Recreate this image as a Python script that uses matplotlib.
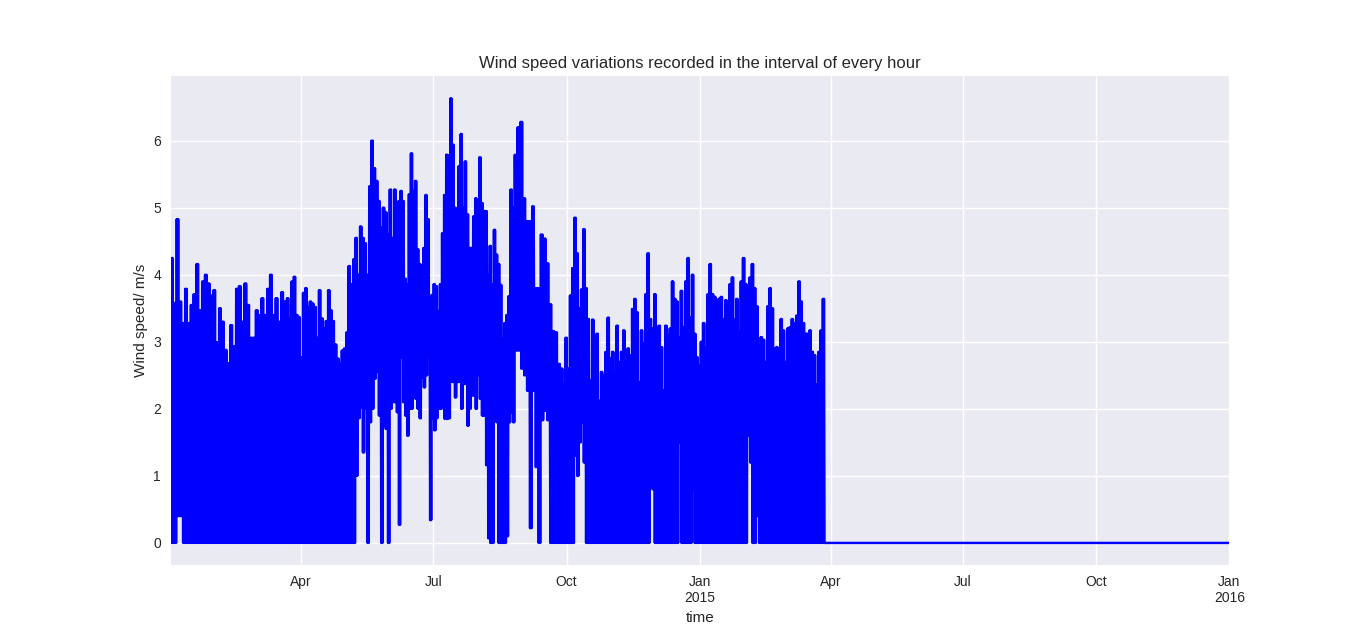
import matplotlib
matplotlib.use("Agg")
import matplotlib.pyplot as plt
import pandas as pd

# ---------------- data ----------------
# Each period: envelope of the hourly wind speed (peak and trough values, m/s)
period_starts = ["2014-01-01", "2014-03-22", "2014-06-04", "2014-08-26", "2014-09-27"]
data_end = "2015-03-28"
axis_end = "2016-01-01"

highs_winter = [4.25, 3.58, 4.83, 3.6, 3.28, 3.79, 3.28, 3.55, 3.71, 4.16,
                3.47, 3.9, 4.0, 3.87, 3.69, 3.77, 2.99, 3.5, 3.3, 2.88,
                2.68, 3.25, 2.93, 3.79, 3.83, 3.3, 3.87, 3.55, 3.06, 3.06,
                3.47, 3.4, 3.65, 3.4, 3.79, 4.0, 3.4, 3.65, 3.3, 3.74, 3.6]
lows_winter = [0, 0, 0.4, 0.4, 0, 0, 0, 0, 0, 0,
               0, 0, 0, 0, 0, 0, 0, 0, 0, 0,
               0, 0, 0, 0, 0, 0, 0, 0, 0, 0,
               0, 0, 0, 0, 0, 0, 0, 0, 0, 0, 0]

highs_spring = [3.65, 3.35, 3.9, 3.97, 3.4, 3.37, 2.77, 3.73, 3.8, 3.52,
                3.6, 3.57, 3.52, 3.06, 3.77, 3.35, 3.2, 3.31, 3.77, 3.47,
                3.31, 2.96, 2.75, 2.67, 2.87, 2.9, 3.14, 4.13, 3.86, 4.23,
                4.55, 4.0, 4.72, 4.55, 4.47, 4.0, 5.32, 6.0, 5.59, 5.4,
                5.1, 4.71, 5.0, 4.93, 4.6, 5.27, 4.55]
lows_spring = [0, 0, 0, 0, 0, 0, 0, 0, 0, 0,
               0, 0, 0, 0, 0, 0, 0, 0, 0, 0,
               0, 0, 0, 0, 0, 0, 0, 0, 0, 0,
               1.0, 1.86, 2.02, 1.35, 2.0, 0, 1.8, 2.0, 2.45, 2.55,
               1.9, 0, 1.75, 1.7, 0, 2.0, 2.1]

highs_summer = [5.27, 4.7, 5.1, 5.25, 5.1, 3.94, 3.86, 5.2, 5.81, 5.25,
                5.4, 4.38, 4.16, 3.85, 4.4, 5.19, 4.83, 3.61, 3.7, 3.86,
                3.83, 3.46, 3.86, 4.62, 5.19, 5.79, 5.78, 6.63, 5.94, 5.0,
                4.7, 5.62, 6.1, 5.0, 5.69, 4.9, 4.4, 4.4, 4.87, 5.14,
                4.9, 5.75, 5.07, 4.95, 4.95, 4.0, 4.43, 3.86, 4.67, 4.3,
                4.16, 3.85, 3.05, 3.28, 3.4, 3.68, 5.27, 5.0]
lows_summer = [2.1, 1.95, 0.27, 2.77, 2.1, 1.9, 1.6, 2.0, 2.0, 2.23,
               2.15, 2.0, 1.86, 2.47, 2.32, 2.5, 2.8, 0.34, 1.85, 1.68,
               1.86, 2.0, 2.0, 2.6, 1.85, 1.85, 1.86, 2.4, 2.4, 2.17,
               2.4, 2.4, 2.0, 2.37, 2.37, 1.75, 2.0, 2.2, 2.2, 2.0,
               2.5, 2.15, 1.9, 1.9, 1.16, 0.07, 0, 0, 2.1, 1.8,
               0, 0, 0, 0, 0.1, 1.8, 1.95, 1.8]

highs_late_summer = [5.79, 6.2, 6.28, 5.14, 4.8, 4.8, 5.02, 3.8, 3.8, 4.6,
                     4.54, 4.17, 3.56, 3.16, 3.14, 2.67]
lows_late_summer = [2.87, 2.87, 2.6, 2.5, 2.27, 0.22, 2.27, 1.13, 0, 1.83,
                    1.97, 1.83, 0, 0, 0, 0]

highs_autumn_winter = [2.6, 2.38, 3.06, 2.6, 3.69, 4.1, 4.85, 4.32, 3.5, 3.78,
                       4.68, 3.8, 3.34, 2.42, 3.33, 2.4, 3.12, 2.12, 2.55, 2.5,
                       2.85, 3.36, 2.75, 2.85, 2.55, 3.24, 2.7, 2.85, 3.17, 2.68,
                       2.9, 2.8, 3.49, 3.64, 3.44, 2.4, 3.17, 2.97, 3.71, 4.32,
                       3.34, 3.2, 3.71, 3.2, 3.24, 2.92, 2.27, 3.24, 3.1, 3.2,
                       3.9, 3.64, 3.6, 3.07, 3.76, 3.22, 3.9, 4.25, 3.36, 4.0,
                       3.12, 2.77, 2.65, 3.0, 3.28, 2.92, 3.71, 4.16, 3.71, 3.67,
                       3.5, 3.64, 3.67, 3.34, 3.62, 3.39, 3.86, 3.96, 3.33, 3.64,
                       3.15, 3.9, 4.25, 3.86, 3.62, 3.96, 4.16, 3.8, 3.53, 2.95,
                       3.07, 3.03, 2.7, 3.53, 3.8, 3.5, 2.9, 2.92, 2.7, 3.34,
                       3.17, 2.7, 3.2, 3.22, 3.34, 3.28, 3.39, 3.9, 3.6, 3.28,
                       3.12, 3.12, 3.17, 2.85, 2.8, 2.36, 2.85, 3.17, 3.64]
lows_autumn_winter = [0, 0, 0, 0, 0, 0, 1.3, 1.0, 1.5, 1.8,
                      1.2, 0, 0, 0, 0, 0, 0, 0, 0, 0,
                      0, 0, 0, 0, 0, 0, 0, 0, 0, 0,
                      0, 0, 0, 0, 0, 0, 0, 0, 0, 0,
                      1.0, 0.8, 0, 0, 0, 0, 0, 0, 0, 0,
                      0, 0, 0, 1.5, 0, 0, 0, 0, 0, 0.8,
                      0, 0, 0, 0, 0, 0, 0, 0, 0, 0,
                      0, 0, 0, 0, 0, 0, 0, 0, 0, 0,
                      0, 0, 0, 0, 1.6, 1.2, 0, 0, 0.4, 0,
                      0, 0, 0, 0, 0, 0, 0, 0, 0, 0,
                      0, 0, 0, 0, 0, 0, 0, 0, 0, 0,
                      0, 0, 0, 0, 0, 0, 0, 0, 0]

tick_dates = ["2014-04-01", "2014-07-01", "2014-10-01", "2015-01-01",
              "2015-04-01", "2015-07-01", "2015-10-01", "2016-01-01"]
tick_labels = ["Apr", "Jul", "Oct", "Jan\n2015", "Apr", "Jul", "Oct", "Jan\n2016"]

# ---------------- build the series ----------------
periods = [(highs_winter, lows_winter), (highs_spring, lows_spring),
           (highs_summer, lows_summer), (highs_late_summer, lows_late_summer),
           (highs_autumn_winter, lows_autumn_winter)]
bounds = [pd.Timestamp(s) for s in period_starts] + [pd.Timestamp(data_end)]

# every reading covers a short stretch in which the hourly speed swings
# between its peak and trough several times
swing = [(0.125, 0), (0.375, 1), (0.625, 0), (0.875, 1)]
times, values = [], []
for k, (hi, lo) in enumerate(periods):
    t0, t1 = bounds[k], bounds[k + 1]
    step = (t1 - t0) / len(hi)
    for i, (h, l) in enumerate(zip(hi, lo)):
        for frac, which in swing:
            times.append(t0 + step * (i + frac))
            values.append(h if which == 0 else l)
times += [pd.Timestamp(data_end), pd.Timestamp(axis_end)]
values += [0.0, 0.0]
series = pd.Series(values, index=pd.DatetimeIndex(times))

# ---------------- plot ----------------
plt.style.use("seaborn-v0_8")
plt.rcParams["font.family"] = ["Liberation Sans", "DejaVu Sans"]

fig, ax = plt.subplots(figsize=(13.66, 6.35), dpi=100)
ax.plot(series.index, series.values, color="#0000ff", linewidth=1.75)

ax.set_xlim(pd.Timestamp("2014-01-01"), pd.Timestamp(axis_end))
ax.set_xticks([pd.Timestamp(d) for d in tick_dates])
ax.set_xticklabels(tick_labels)
ax.set_yticks(range(0, 7))
ax.tick_params(axis="both", labelsize=10, length=0)

ax.set_title("Wind speed variations recorded in the interval of every hour", fontsize=12)
ax.set_xlabel("time", fontsize=11)
ax.set_ylabel("Wind speed/ m/s", fontsize=11)

fig.savefig("out.png", dpi=100)
